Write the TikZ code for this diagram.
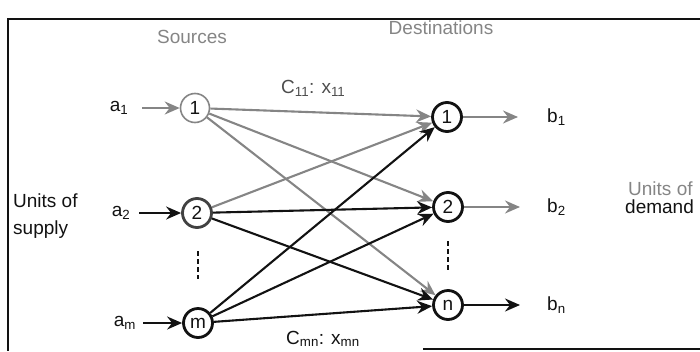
\documentclass[tikz,border=0pt]{standalone}
\usepackage{fontspec}
\setmainfont{Liberation Sans}
\usetikzlibrary{arrows.meta}
\definecolor{lg}{HTML}{858585}
\definecolor{dk}{HTML}{121212}
\begin{document}
\begin{tikzpicture}[x=1pt,y=-1pt,
  every node/.style={font=\fontsize{19}{23}\selectfont, inner sep=0pt, text=dk},
  vert/.style={circle, minimum size=29pt, line width=2.8pt, draw=dk, fill=white, font=\fontsize{19}{20}\selectfont},
  vertlight/.style={vert, draw=lg, line width=1.6pt},
  tip/.style={-{Stealth[length=15pt,width=13pt,inset=5pt]}},
  edge/.style={tip, line width=2.1pt, draw=dk},
  edgel/.style={edge, draw=lg},
  dots/.style={line width=2.8pt, dk, dash pattern=on 5pt off 3pt},
  frame/.style={line width=1.3pt, draw=dk},
  title/.style={text=lg, font=\fontsize{19}{23}\selectfont}
]
\useasboundingbox (0,0) rectangle (700,351);
% frame
\draw[frame] (702,19) -- (8,19) -- (8,351);
\draw[frame] (423,349) -- (702,349);
% titles
\node[title] (tsrc) at (192,37) {Sources};
\node[title] (tdst) at (441,28) {Destinations};
% nodes
\node[vertlight] (s1) at (195,108) {1};
\node[vert, draw=dk!80] (s2) at (197,213) {2};
\node[vert] (sm) at (198,323) {m};
\node[vert] (d1) at (447,117) {1};
\node[vert] (d2) at (448,207) {2};
\node[vert] (dn) at (448,305) {n};
% supply labels
\node (a1) at (119,108) {a\textsubscript{1}};
\node (a2) at (121,213) {a\textsubscript{2}};
\node (am) at (125,323) {a\textsubscript{m}};
\draw[edgel] (a1.east) ++(14pt,0) coordinate (a1s) (a1s) -- (s1);
\draw[edge] (a2.east) ++(9pt,0) coordinate (a2s) (a2s) -- (s2);
\draw[edge] (am.east) ++(7pt,0) coordinate (ams) (ams) -- (sm);
% demand labels
\node[anchor=west] (b1) at (547,117) {b\textsubscript{1}};
\node[anchor=west] (b2) at (547,207) {b\textsubscript{2}};
\node[anchor=west] (bn) at (547,305) {b\textsubscript{n}};
\coordinate (b1e) at (518,117);
\coordinate (b2e) at (520,207);
\coordinate (bne) at (520,305);
\draw[edgel] (d1) -- (b1e);
\draw[edgel] (d2) -- (b2e);
\draw[edge] (dn) -- (bne);
% arcs
\draw[edgel] (s1) -- (d1);
\draw[edgel] (s1) -- (d2);
\draw[edgel] (s1) -- (dn);
\draw[edgel] (s2) -- (d1);
\draw[edge] (s2) -- (d2);
\draw[edge] (s2) -- (dn);
\draw[edge] (sm) -- (d1);
\draw[edge] (sm) -- (d2);
\draw[edge] (sm) -- (dn);
% cost labels
\node[anchor=west, text=dk!75] (c11) at (281,88) {C\textsubscript{11}: x\textsubscript{11}};
\node[anchor=west] (cmn) at (286,339) {C\textsubscript{mn}: x\textsubscript{mn}};
% vertical dots
\draw[dots] (198,251) -- (198,279);
\draw[dots] (448,241) -- (448,271);
% side texts
\node[anchor=west, align=left, font=\fontsize{19}{27}\selectfont] (sup) at (13,216) {Units of\\supply};
\node[anchor=west, text=lg] (dem1) at (628,189) {Units of};
\node[anchor=west] (dem2) at (625,207) {demand};
\end{tikzpicture}
\end{document}
